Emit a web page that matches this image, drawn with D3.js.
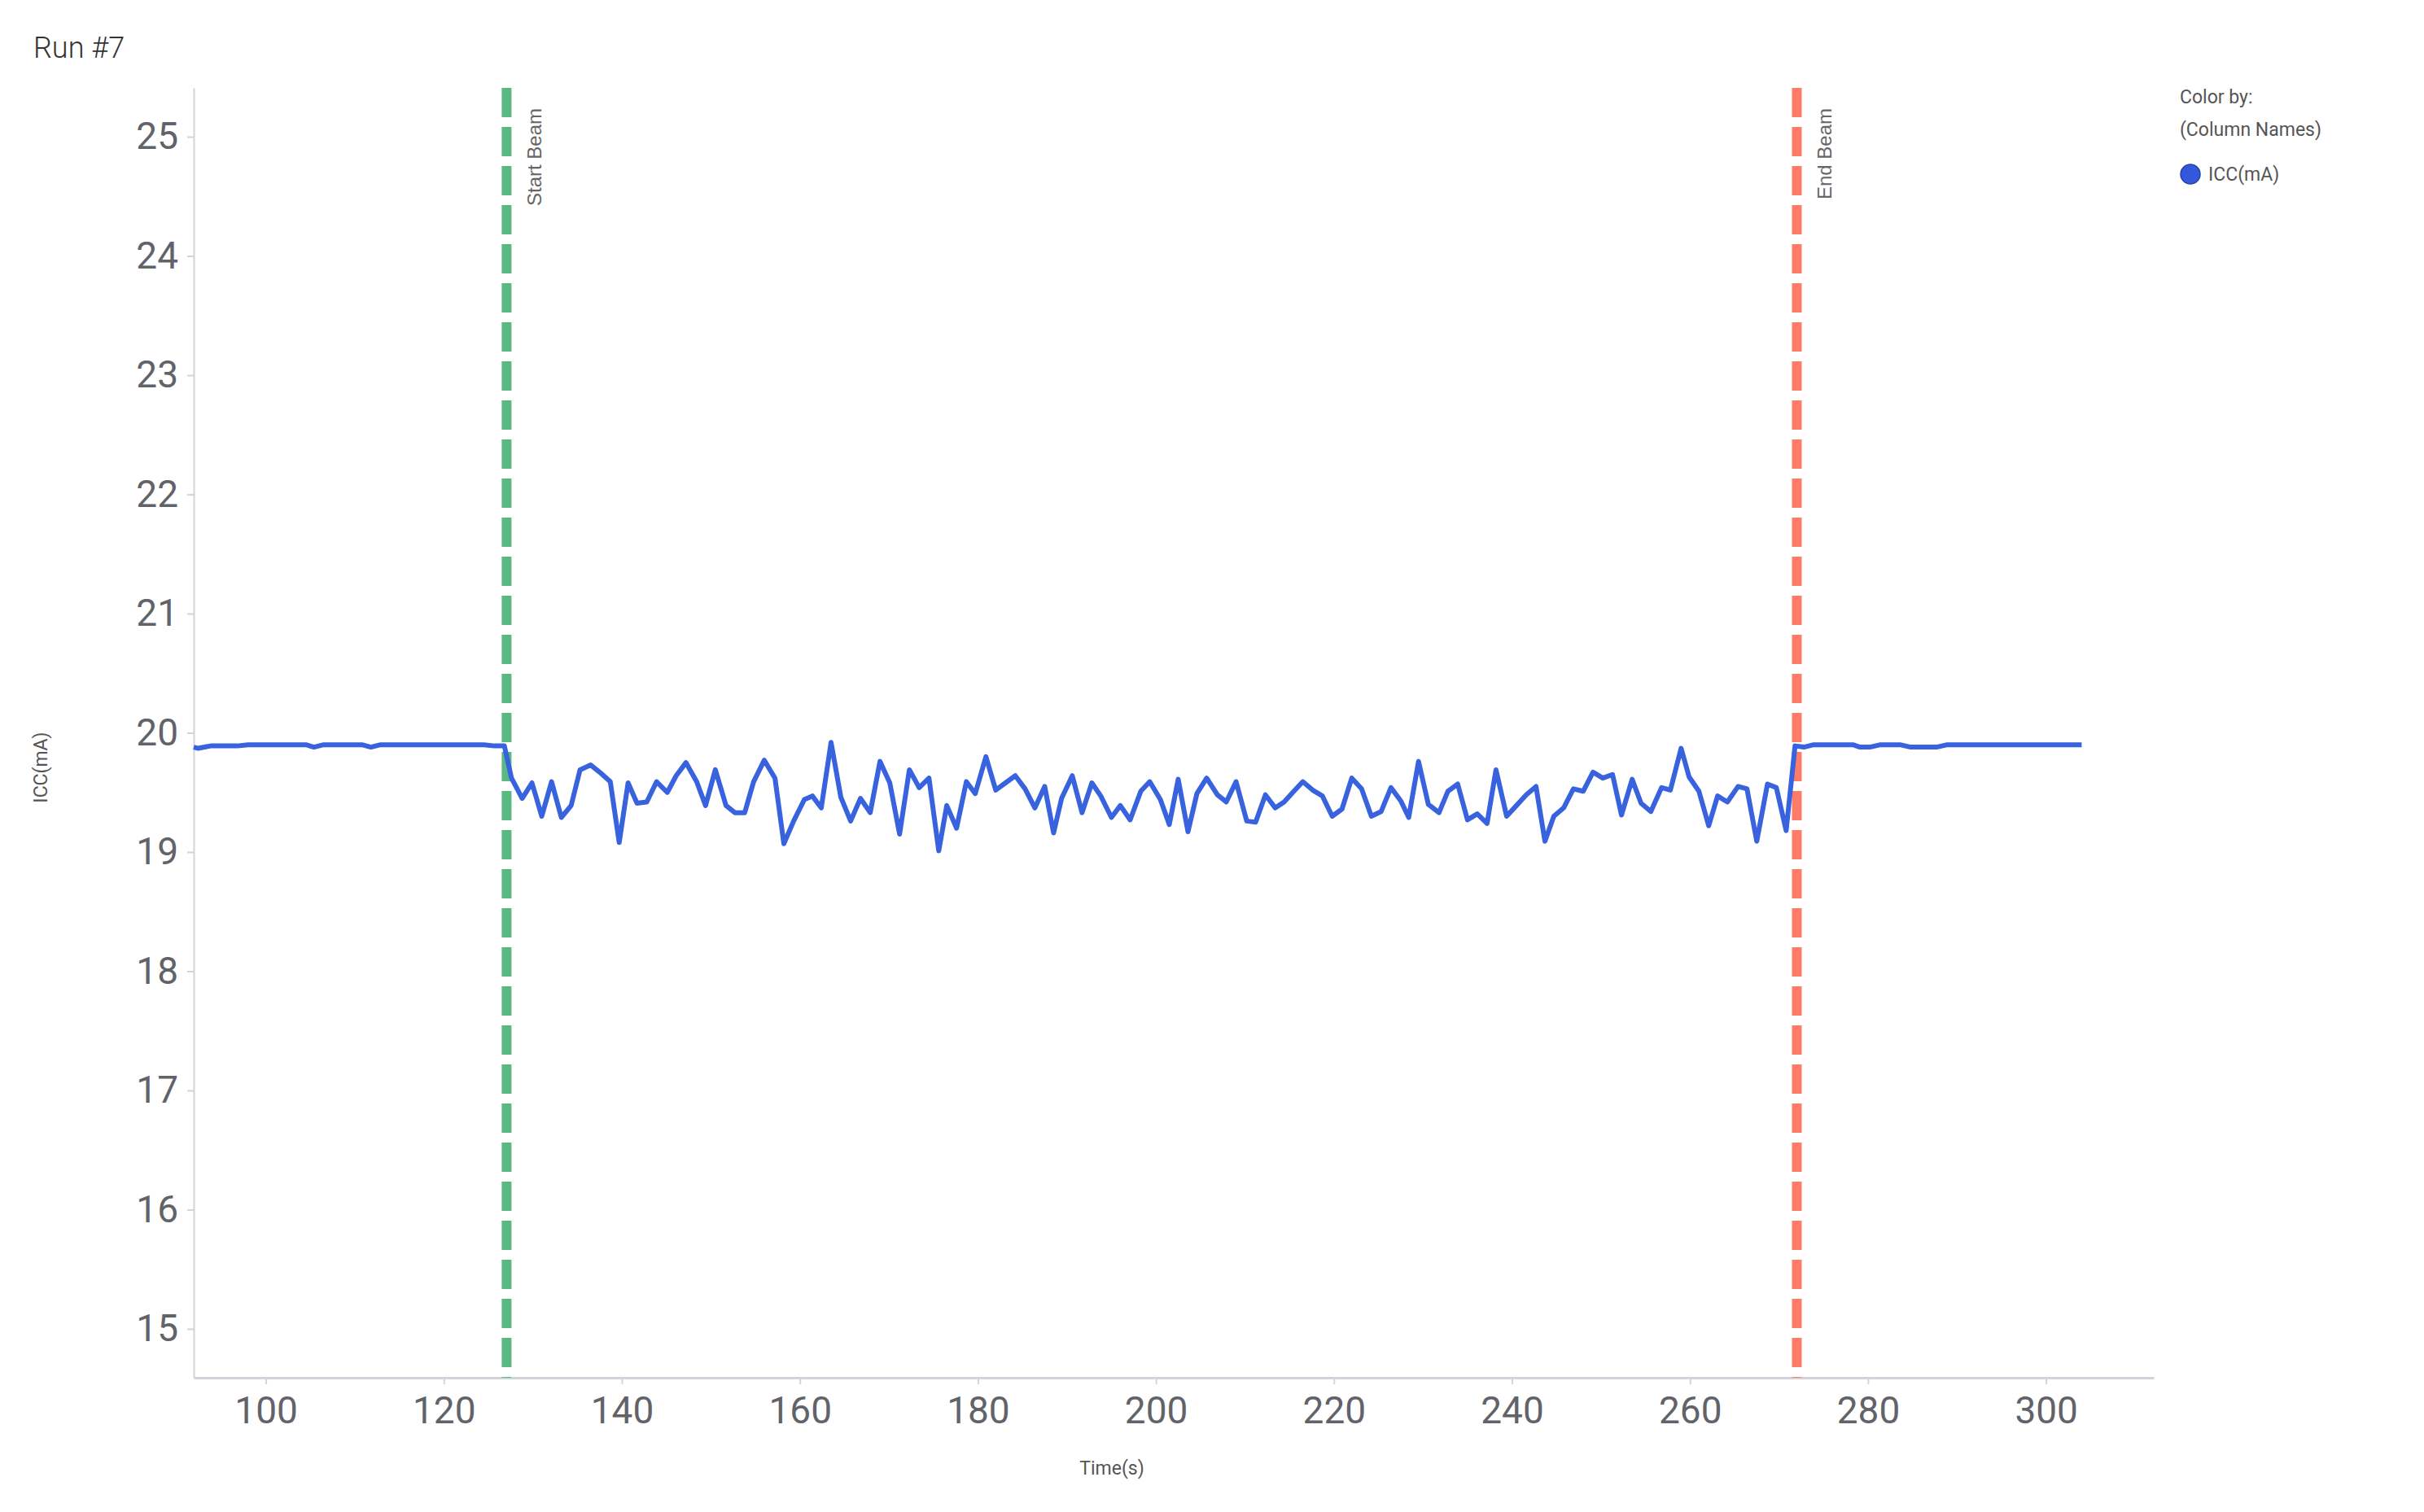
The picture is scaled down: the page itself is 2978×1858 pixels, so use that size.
<!DOCTYPE html>
<html>
<head>
<meta charset="utf-8">
<script src="https://cdn.jsdelivr.net/npm/d3@7"></script>
<style>
  body { margin: 0; background: #fff; }
  #canvas text { font-family: Roboto, "Noto Sans", sans-serif; }
</style>
</head>
<body>
<div id="canvas"></div>
<script>
// ----------------------------------------------------------
// DATA -----------------------------------------------------
// ----------------------------------------------------------
var chart_title = "Run #7";
var series_name = "ICC(mA)";
var x_title = "Time(s)";
var y_title = "ICC(mA)";

// sample times (s)
var time_s = [
  91.9, 92.4, 93.8, 96.8, 98.0, 104.5, 105.4, 106.5, 110.8, 111.8,
  112.9, 124.5, 125.7, 126.8, 127.6, 128.8, 129.9, 131.0, 132.1, 133.2,
  134.3, 135.3, 136.5, 137.5, 138.7, 139.7, 140.7, 141.7, 142.8, 143.9,
  145.1, 146.1, 147.2, 148.4, 149.4, 150.5, 151.7, 152.7, 153.8, 154.8,
  156.0, 157.2, 158.2, 159.3, 160.5, 161.4, 162.4, 163.5, 164.6, 165.7,
  166.8, 167.9, 169.0, 170.1, 171.2, 172.3, 173.4, 174.5, 175.6, 176.5,
  177.6, 178.7, 179.7, 180.9, 182.0, 183.1, 184.2, 185.3, 186.4, 187.5,
  188.5, 189.4, 190.6, 191.7, 192.8, 193.8, 195.0, 196.0, 197.1, 198.3,
  199.3, 200.5, 201.5, 202.5, 203.6, 204.6, 205.7, 206.9, 207.9, 209.0,
  210.2, 211.2, 212.3, 213.4, 214.4, 215.5, 216.5, 217.6, 218.7, 219.8,
  220.9, 222.0, 223.1, 224.2, 225.3, 226.4, 227.5, 228.4, 229.5, 230.6,
  231.8, 232.8, 233.9, 235.0, 236.1, 237.2, 238.2, 239.4, 240.5, 241.6,
  242.7, 243.7, 244.7, 245.8, 246.9, 248.0, 249.1, 250.2, 251.3, 252.3,
  253.5, 254.5, 255.6, 256.8, 257.8, 259.0, 259.9, 261.0, 262.1, 263.1,
  264.2, 265.4, 266.4, 267.5, 268.7, 269.7, 270.8, 271.8, 272.8, 273.9,
  278.3, 279.1, 280.2, 281.4, 283.6, 284.8, 287.7, 288.9, 304.0
];

// ICC values (mA)
var icc_ma = [
  19.88, 19.87, 19.89, 19.89, 19.90, 19.90, 19.88, 19.90, 19.90, 19.88,
  19.90, 19.90, 19.89, 19.89, 19.62, 19.45, 19.58, 19.30, 19.59, 19.29,
  19.39, 19.69, 19.73, 19.67, 19.59, 19.08, 19.58, 19.41, 19.42, 19.59,
  19.50, 19.64, 19.75, 19.59, 19.39, 19.69, 19.39, 19.33, 19.33, 19.59,
  19.77, 19.62, 19.07, 19.26, 19.44, 19.47, 19.37, 19.92, 19.46, 19.26,
  19.45, 19.33, 19.76, 19.58, 19.15, 19.69, 19.54, 19.62, 19.01, 19.39,
  19.20, 19.59, 19.49, 19.80, 19.52, 19.58, 19.64, 19.53, 19.37, 19.55,
  19.16, 19.45, 19.64, 19.33, 19.58, 19.47, 19.29, 19.39, 19.27, 19.51,
  19.59, 19.44, 19.23, 19.61, 19.17, 19.49, 19.62, 19.48, 19.42, 19.59,
  19.26, 19.25, 19.48, 19.37, 19.42, 19.51, 19.59, 19.52, 19.47, 19.30,
  19.36, 19.62, 19.53, 19.30, 19.34, 19.54, 19.43, 19.29, 19.76, 19.40,
  19.33, 19.51, 19.57, 19.27, 19.32, 19.24, 19.69, 19.30, 19.39, 19.48,
  19.55, 19.09, 19.30, 19.37, 19.53, 19.51, 19.67, 19.62, 19.65, 19.31,
  19.61, 19.41, 19.34, 19.54, 19.52, 19.87, 19.63, 19.51, 19.22, 19.47,
  19.42, 19.55, 19.53, 19.09, 19.57, 19.54, 19.18, 19.89, 19.88, 19.90,
  19.90, 19.88, 19.88, 19.90, 19.90, 19.88, 19.88, 19.90, 19.90
];

// marker lines
var marker_labels = ["Start Beam", "End Beam"];
var marker_times = [127.05, 272.0];
var marker_colors = ["#5ab882", "#fd7b68"];

// tick labels
var x_ticks = [100, 120, 140, 160, 180, 200, 220, 240, 260, 280, 300];
var y_ticks = [15, 16, 17, 18, 19, 20, 21, 22, 23, 24, 25];

// legend
var legend_title = ["Color by:", "(Column Names)"];

var data_input = time_s.map((t, i) => ({ t: t, v: icc_ma[i] }));

// ----------------------------------------------------------
// STRUCTURE ------------------------------------------------
// ----------------------------------------------------------
var W = 2978, H = 1858;
var plot = { left: 238, right: 2646, top: 108, bottom: 1693 };

var svg = d3.select("#canvas").append("svg")
  .attr("width", W)
  .attr("height", H)
  .style("background-color", "#fff");

var xScale = d3.scaleLinear()
  .domain([91.9, 312.1])
  .range([plot.left, plot.right]);

var yScale = d3.scaleLinear()
  .domain([14.59, 25.41])
  .range([plot.bottom, plot.top]);

// title
svg.append("text")
  .attr("x", 41)
  .attr("y", 71)
  .attr("font-size", 36)
  .attr("font-weight", 300)
  .attr("fill", "#333")
  .text(chart_title);

// ----------------------------------------------------------
// AXES -----------------------------------------------------
// ----------------------------------------------------------
var axis_color = "#d2d4dc";
var tick_text = "#616369";

var yAxis = svg.append("g")
  .attr("transform", `translate(${plot.left}, 0)`)
  .call(d3.axisLeft(yScale).tickValues(y_ticks).tickSize(8).tickSizeOuter(0).tickPadding(11));

var xAxis = svg.append("g")
  .attr("transform", `translate(0, ${plot.bottom})`)
  .call(d3.axisBottom(xScale).tickValues(x_ticks).tickSize(8).tickSizeOuter(0).tickPadding(15));

[yAxis, xAxis].forEach(function (a) {
  a.select(".domain").attr("stroke", axis_color).attr("stroke-width", 2);
  a.selectAll(".tick line").attr("stroke", axis_color).attr("stroke-width", 2);
  a.selectAll(".tick text")
    .attr("fill", tick_text)
    .style("font-size", "46px")
    .style("font-family", "Roboto, sans-serif");
});
xAxis.select(".domain").attr("stroke-width", 3);

// axis titles
svg.append("text")
  .attr("x", 1366)
  .attr("y", 1812)
  .attr("text-anchor", "middle")
  .attr("font-size", 23)
  .attr("fill", "#555")
  .text(x_title);

svg.append("text")
  .attr("transform", "translate(58, 943) rotate(-90)")
  .attr("text-anchor", "middle")
  .attr("font-size", 23)
  .attr("fill", "#555")
  .text(y_title);

// ----------------------------------------------------------
// MARKER LINES ---------------------------------------------
// ----------------------------------------------------------
var markers = svg.append("g").attr("class", "markers");

marker_times.forEach(function (t, i) {
  var x = xScale(t);
  markers.append("line")
    .attr("x1", x).attr("x2", x)
    .attr("y1", plot.top).attr("y2", plot.bottom)
    .attr("stroke", marker_colors[i])
    .attr("stroke-width", 12)
    .attr("stroke-dasharray", "36 12");
  markers.append("text")
    .attr("transform", `translate(${x + 43}, 133) rotate(-90)`)
    .attr("text-anchor", "end")
    .style("font-family", "'Liberation Sans', Arial, sans-serif")
    .attr("font-size", 24)
    .attr("fill", "#666")
    .text(marker_labels[i]);
});

// ----------------------------------------------------------
// LINE -----------------------------------------------------
// ----------------------------------------------------------
var line = d3.line()
  .x((d) => xScale(d.t))
  .y((d) => yScale(d.v));

svg.append("path")
  .datum(data_input)
  .attr("fill", "none")
  .attr("stroke", "#3862de")
  .attr("stroke-width", 6)
  .attr("stroke-linejoin", "round")
  .attr("d", line);

// ----------------------------------------------------------
// LEGEND ---------------------------------------------------
// ----------------------------------------------------------
var legend = svg.append("g").attr("class", "legend");

legend.selectAll("text.head")
  .data(legend_title)
  .enter()
  .append("text")
  .attr("class", "head")
  .attr("x", 2678)
  .attr("y", (d, i) => 127 + i * 40)
  .attr("font-size", 23)
  .attr("fill", "#555")
  .text((d) => d);

legend.append("circle")
  .attr("cx", 2691)
  .attr("cy", 214)
  .attr("r", 12)
  .attr("fill", "#3358dc")
  .attr("stroke", "#2443a8")
  .attr("stroke-width", 1.5);

legend.append("text")
  .attr("x", 2713)
  .attr("y", 222)
  .attr("font-size", 23)
  .attr("fill", "#555")
  .text(series_name);
</script>
</body>
</html>
